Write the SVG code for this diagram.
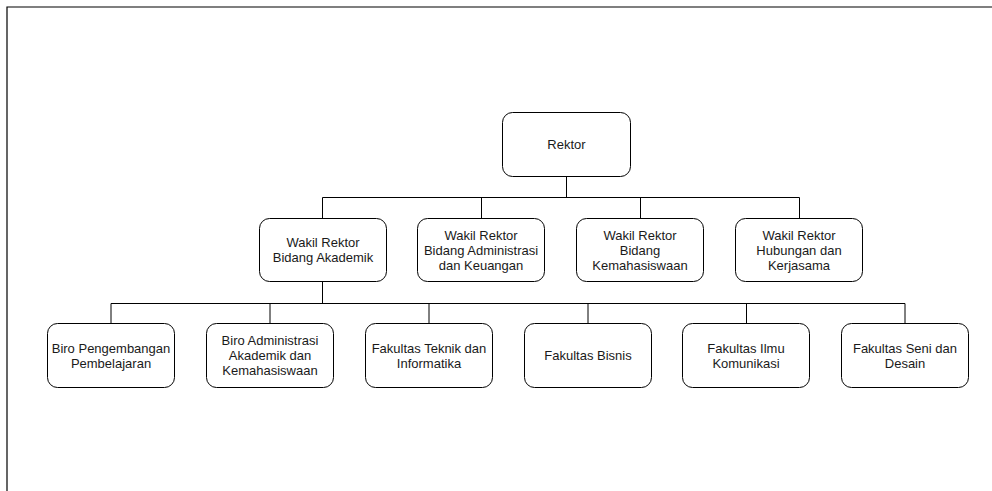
<svg xmlns="http://www.w3.org/2000/svg" width="992" height="491" viewBox="0 0 992 491">
<style>
.box{fill:#fff;stroke:#000;stroke-width:1}
.t{font-family:"Liberation Sans",Arial,sans-serif;font-size:13px;fill:#1a1a1a;text-anchor:middle;dominant-baseline:central}
.c{fill:none;stroke:#000;stroke-width:1}
.frame{fill:none;stroke:#000;stroke-width:1.2}
</style>
<rect width="992" height="491" fill="#fff"/>
<path class="frame" d="M7 491V7H992"/>
<g id="connectors">
<path class="c" d="M566.5 176V197.5M322.5 197.5H799.5M322.5 197.5V218M481.5 197.5V218M640.5 197.5V218M799.5 197.5V218"/>
<path class="c" d="M322.5 282V303.5M111 303.5H905M111 303.5V323M270 303.5V323M429 303.5V323M588 303.5V323M746.5 303.5V323M905 303.5V323"/>
</g>
<g id="rektor"><rect class="box" x="502.5" y="112.5" width="128" height="64" rx="10"/><text class="t" x="566.5" y="144.5">Rektor</text></g>
<g id="wr-akademik"><rect class="box" x="259.5" y="218.5" width="127" height="63" rx="10"/><text class="t" x="323" y="242.5">Wakil Rektor</text><text class="t" x="323" y="257.5">Bidang Akademik</text></g>
<g id="wr-adminkeu"><rect class="box" x="417.5" y="218.5" width="127" height="63" rx="10"/><text class="t" x="481" y="235">Wakil Rektor</text><text class="t" x="481" y="250">Bidang Administrasi</text><text class="t" x="481" y="265">dan Keuangan</text></g>
<g id="wr-kemahasiswaan"><rect class="box" x="576.5" y="218.5" width="127" height="63" rx="10"/><text class="t" x="640" y="235">Wakil Rektor</text><text class="t" x="640" y="250">Bidang</text><text class="t" x="640" y="265">Kemahasiswaan</text></g>
<g id="wr-hubungan"><rect class="box" x="735.5" y="218.5" width="127" height="63" rx="10"/><text class="t" x="799" y="235">Wakil Rektor</text><text class="t" x="799" y="250">Hubungan dan</text><text class="t" x="799" y="265">Kerjasama</text></g>
<g id="biro-pengembangan"><rect class="box" x="47.5" y="323.5" width="127" height="64" rx="10"/><text class="t" x="111" y="348">Biro Pengembangan</text><text class="t" x="111" y="363">Pembelajaran</text></g>
<g id="biro-administrasi"><rect class="box" x="206.5" y="323.5" width="127" height="64" rx="10"/><text class="t" x="270" y="340.5">Biro Administrasi</text><text class="t" x="270" y="355.5">Akademik dan</text><text class="t" x="270" y="370.5">Kemahasiswaan</text></g>
<g id="fak-teknik"><rect class="box" x="365.5" y="323.5" width="127" height="64" rx="10"/><text class="t" x="429" y="348">Fakultas Teknik dan</text><text class="t" x="429" y="363">Informatika</text></g>
<g id="fak-bisnis"><rect class="box" x="524.5" y="323.5" width="127" height="64" rx="10"/><text class="t" x="588" y="355.5">Fakultas Bisnis</text></g>
<g id="fak-ilmukom"><rect class="box" x="682.5" y="323.5" width="127" height="64" rx="10"/><text class="t" x="746" y="348">Fakultas Ilmu</text><text class="t" x="746" y="363">Komunikasi</text></g>
<g id="fak-seni"><rect class="box" x="841.5" y="323.5" width="127" height="64" rx="10"/><text class="t" x="905" y="348">Fakultas Seni dan</text><text class="t" x="905" y="363">Desain</text></g>
</svg>
